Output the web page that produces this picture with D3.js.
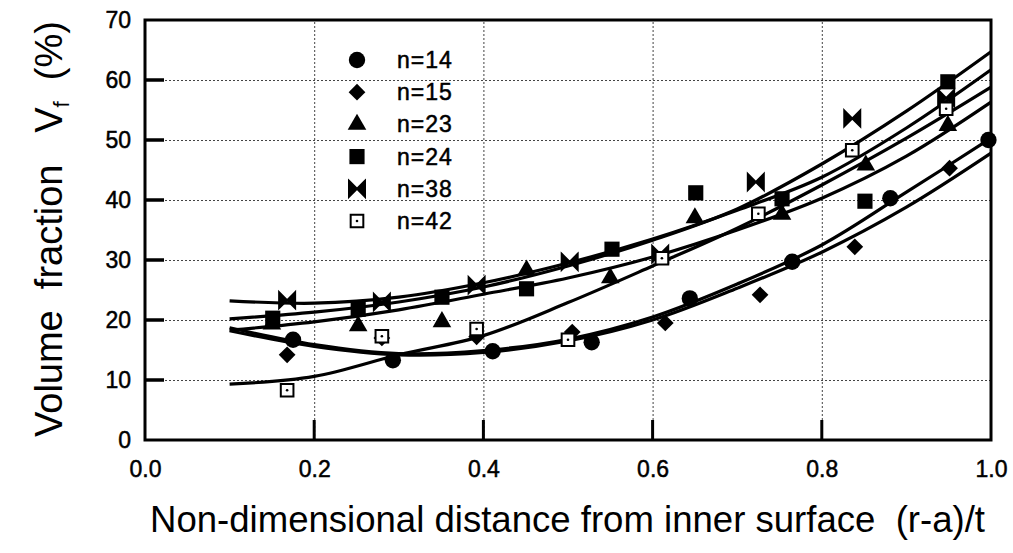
<!DOCTYPE html>
<html>
<head>
  <style>
    body { margin: 0; background: #fff; }
    svg text { font-family: "Liberation Sans", Arial, sans-serif; fill: #000; }
    .grid line { stroke: #444; stroke-width: 1; stroke-dasharray: 2,2; }
    .grid .domain { display: none; }
    .axis .domain { display: none; }
    .axis .tick line { display: none; }
    .axis text { font-size: 23px; stroke: #000; stroke-width: 0.5px; }
  </style>
</head>
<body>
  <script src="https://d3js.org/d3.v7.min.js"></script>
  <script>
    // measured points, x = (r-a)/t, y = Vf (%)
    const n14 = [[0.175, 16.7], [0.293, 13.3], [0.411, 14.8], [0.528, 16.3], [0.644, 23.6], [0.765, 29.7], [0.881, 40.3], [0.997, 50.0]];
    const n15 = [[0.168, 14.2], [0.28, 17.0], [0.392, 17.2], [0.505, 18.0], [0.615, 19.5], [0.727, 24.2], [0.839, 32.2], [0.951, 45.3]];
    const n23 = [[0.15, 19.3], [0.252, 19.0], [0.351, 19.7], [0.451, 28.3], [0.55, 27.0], [0.65, 37.0], [0.753, 37.6], [0.852, 45.8], [0.949, 52.4]];
    const n24 = [[0.151, 20.3], [0.252, 21.8], [0.351, 23.8], [0.451, 25.2], [0.552, 31.8], [0.651, 41.2], [0.753, 40.2], [0.851, 39.8], [0.949, 59.7]];
    const n38 = [[0.168, 23.3], [0.28, 23.0], [0.392, 25.8], [0.502, 29.7], [0.609, 31.0], [0.722, 43.0], [0.836, 53.6], [0.947, 57.0]];
    const n42 = [[0.168, 8.3], [0.28, 17.3], [0.392, 18.5], [0.5, 16.7], [0.611, 30.3], [0.725, 37.7], [0.836, 48.3], [0.947, 55.2]];

    // fitted curves at x = 0.1 ... 1.0
    const curveX = [0.1, 0.2, 0.3, 0.4, 0.5, 0.6, 0.7, 0.8, 0.9, 1.0];
    const fit14 = [18.7, 15.9, 14.4, 14.9, 16.8, 20.5, 26.0, 32.5, 41.3, 50.3];
    const fit15 = [18.2, 15.6, 14.2, 14.6, 16.5, 20.0, 25.3, 31.3, 38.8, 47.8];
    const fit23 = [18.3, 19.7, 21.7, 24.3, 27.0, 30.5, 35.0, 40.3, 47.3, 56.3];
    const fit24 = [20.2, 21.3, 23.0, 25.5, 29.0, 33.3, 38.5, 46.0, 54.8, 64.7];
    const fit38 = [23.2, 22.8, 23.8, 26.2, 29.5, 33.5, 38.3, 43.8, 52.0, 61.7];
    const fit42 = [9.3, 10.6, 14.2, 17.4, 22.9, 29.0, 35.3, 42.5, 50.3, 58.8];

    const legendLabels = ["n=14", "n=15", "n=23", "n=24", "n=38", "n=42"];
    const xTicks = [0.0, 0.2, 0.4, 0.6, 0.8, 1.0];
    const yTicks = [0, 10, 20, 30, 40, 50, 60, 70];

    const w = 1013, h = 553;
    const pl = 145, pr = 991, pt = 20, pb = 440;

    const svg = d3.select("body").append("svg")
      .attr("width", w)
      .attr("height", h);

    const x = d3.scaleLinear().domain([0, 1]).range([pl, pr]);
    const y = d3.scaleLinear().domain([0, 70]).range([pb, pt]);

    // dotted grid
    svg.append("g").attr("class", "grid")
      .attr("transform", "translate(" + pl + ",0)")
      .call(d3.axisLeft(y).tickValues([10, 20, 30, 40, 50, 60]).tickSize(-(pr - pl)).tickFormat(""));
    svg.append("g").attr("class", "grid")
      .attr("transform", "translate(0," + pb + ")")
      .call(d3.axisBottom(x).tickValues([0.2, 0.4, 0.6, 0.8]).tickSize(-(pb - pt)).tickFormat(""));

    // tick labels
    svg.append("g").attr("class", "axis")
      .attr("transform", "translate(" + pl + ",0)")
      .call(d3.axisLeft(y).tickValues(yTicks).tickSize(0).tickPadding(14).tickFormat(d3.format("d")));
    svg.append("g").attr("class", "axis")
      .attr("transform", "translate(0," + pb + ")")
      .call(d3.axisBottom(x).tickValues(xTicks).tickSize(0).tickPadding(21).tickFormat(d3.format(".1f")));

    // thick inward tick marks
    svg.append("g").selectAll("line")
      .data([10, 20, 30, 40, 50, 60])
      .enter().append("line")
      .attr("x1", pl).attr("x2", pl + 19)
      .attr("y1", (d) => y(d)).attr("y2", (d) => y(d))
      .attr("stroke", "#000").attr("stroke-width", 3.5);
    svg.append("g").selectAll("line")
      .data([0.2, 0.4, 0.6, 0.8])
      .enter().append("line")
      .attr("x1", (d) => x(d)).attr("x2", (d) => x(d))
      .attr("y1", pb).attr("y2", pb - 20)
      .attr("stroke", "#000").attr("stroke-width", 3);

    // frame
    svg.append("rect")
      .attr("x", pl).attr("y", pt)
      .attr("width", pr - pl).attr("height", pb - pt)
      .attr("fill", "none").attr("stroke", "#000").attr("stroke-width", 3);

    // fitted lines
    const line = d3.line()
      .x((d) => x(d[0]))
      .y((d) => y(d[1]))
      .curve(d3.curveCatmullRom.alpha(0.5));

    [fit14, fit15, fit23, fit24, fit38, fit42].forEach((f) => {
      svg.append("path")
        .datum(curveX.map((cx, i) => [cx, f[i]]))
        .attr("d", line)
        .attr("fill", "none")
        .attr("stroke", "#000")
        .attr("stroke-width", 3.2);
    });

    // marker shapes
    const bowtie = "M-8,-8L0,0L-8,8Z M8,-8L0,0L8,8Z";
    const shapes = [
      { path: d3.symbol(d3.symbolCircle, 210)(), rot: 0, fill: "#000", stroke: "none" },
      { path: d3.symbol(d3.symbolSquare, 140)(), rot: 45, fill: "#000", stroke: "none" },
      { path: d3.symbol(d3.symbolTriangle, 150)(), rot: 0, fill: "#000", stroke: "none" },
      { path: d3.symbol(d3.symbolSquare, 230)(), rot: 0, fill: "#000", stroke: "none" },
      { path: bowtie, rot: 0, fill: "#000", stroke: "#000" },
      { path: d3.symbol(d3.symbolSquare, 160)(), rot: 0, fill: "#fff", stroke: "#000" }
    ];

    function drawMarker(g, s) {
      g.append("path")
        .attr("d", s.path)
        .attr("transform", "rotate(" + s.rot + ")")
        .attr("fill", s.fill)
        .attr("stroke", s.stroke)
        .attr("stroke-width", 2);
      if (s.fill === "#fff") {
        g.append("circle").attr("r", 1.3).attr("fill", "#000");
      }
    }

    [n14, n15, n23, n24, n38, n42].forEach((series, i) => {
      svg.append("g").selectAll("g")
        .data(series)
        .enter()
        .append("g")
        .attr("transform", (d) => "translate(" + x(d[0]) + "," + y(d[1]) + ")")
        .each(function () { drawMarker(d3.select(this), shapes[i]); });
    });

    // legend
    const legend = svg.append("g");
    legendLabels.forEach((label, i) => {
      const row = legend.append("g").attr("transform", "translate(357," + (60 + i * 32.2) + ")");
      drawMarker(row, shapes[i]);
      row.append("text")
        .attr("x", 40).attr("y", 8)
        .attr("font-size", 23)
        .attr("stroke", "#000").attr("stroke-width", 0.5)
        .attr("letter-spacing", 1)
        .text(label);
    });

    // axis titles
    svg.append("text")
      .attr("x", 150).attr("y", 532)
      .attr("font-size", 37)
      .attr("xml:space", "preserve")
      .attr("textLength", 835)
      .attr("lengthAdjust", "spacingAndGlyphs")
      .text("Non-dimensional distance from inner surface  (r-a)/t");

    const yt = svg.append("text")
      .attr("transform", "translate(62,437) rotate(-90)")
      .attr("font-size", 38)
      .attr("xml:space", "preserve");
    yt.append("tspan").text("Volume  fraction   V");
    yt.append("tspan").attr("font-size", 22).attr("dy", 7).text("f");
    yt.append("tspan").attr("dy", -7).text("  (%)");
  </script>
</body>
</html>
